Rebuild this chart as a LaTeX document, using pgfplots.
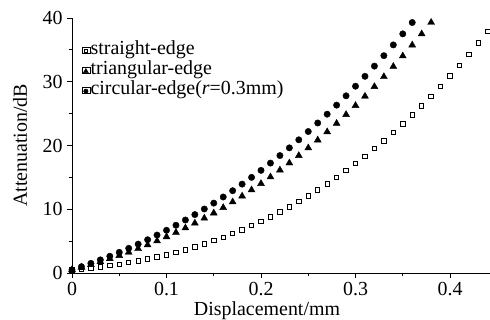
\documentclass[border=0pt]{standalone}
\usepackage{pgfplots}
\pgfplotsset{compat=1.18}
\usepackage{fontspec}
\setmainfont{Liberation Serif}

\begin{document}
\begin{tikzpicture}
\begin{axis}[
  scale only axis, width=418bp, height=255bp,
  xmin=0, xmax=0.4423, ymin=0, ymax=40,
  axis x line=bottom, axis y line=left,
  axis line style={-, line width=0.8bp},
  xtick={0,0.1,0.2,0.3,0.4}, xticklabels={0,0.1,0.2,0.3,0.4},
  ytick={0,10,20,30,40}, yticklabels={0,10,20,30,40},
  minor x tick num=1, minor y tick num=1,
  tick align=outside, major tick length=5bp, minor tick length=3bp,
  tick style={line width=0.8bp, black},
  tick label style={font=\fontsize{20}{20}\selectfont},
  xticklabel style={yshift=-1bp},
  yticklabel style={xshift=-1bp},
  xlabel={Displacement/mm}, ylabel={Attenuation/dB},
  label style={font=\fontsize{20}{20}\selectfont},
  xlabel style={at={(axis description cs:0.4665,0)}, anchor=base, yshift=-43bp},
  ylabel style={at={(axis description cs:-0.1077,0.5)}, anchor=base},
  legend style={draw=none, fill=none, at={(rel axis cs:0,1)}, anchor=north west,
    xshift=10bp, yshift=-22bp, font=\fontsize{20}{20}\selectfont,
    row sep=0pt, inner sep=0pt, column sep=0pt,
    nodes={inner sep=0pt, text height=14bp, text depth=6bp}},
  legend cell align=left,
  legend image code/.code={\path (0bp,-3bp) rectangle (8bp,3bp); \draw[#1, every mark/.append style={scale=0.7}] plot coordinates {(3.5bp,-1bp)};},
]
\addplot[only marks, mark=square, mark size=2.2bp, mark options={fill=white, line width=0.9bp}, black] coordinates {
(0.00,0.50)(0.01,0.63)(0.02,0.78)(0.03,0.95)(0.04,1.15)(0.05,1.37)(0.06,1.61)(0.07,1.88)(0.08,2.18)(0.09,2.50)
(0.10,2.85)(0.11,3.23)(0.12,3.64)(0.13,4.08)(0.14,4.55)(0.15,5.06)(0.16,5.59)(0.17,6.17)(0.18,6.78)(0.19,7.42)
(0.20,8.10)(0.21,8.82)(0.22,9.58)(0.23,10.38)(0.24,11.21)(0.25,12.09)(0.26,13.02)(0.27,13.98)(0.28,14.99)(0.29,16.05)
(0.30,17.15)(0.31,18.30)(0.32,19.50)(0.33,20.74)(0.34,22.04)(0.35,23.38)(0.36,24.78)(0.37,26.23)(0.38,27.73)(0.39,29.29)
(0.40,30.90)(0.41,32.57)(0.42,34.29)(0.43,36.08)(0.44,37.92)
};
\addlegendentry{straight-edge}
\addplot[only marks, mark=triangle*, mark size=4bp, black] coordinates {
(0.00,0.50)(0.01,0.89)(0.02,1.31)(0.03,1.76)(0.04,2.23)(0.05,2.73)(0.06,3.25)(0.07,3.81)(0.08,4.40)(0.09,5.02)
(0.10,5.67)(0.11,6.35)(0.12,7.06)(0.13,7.81)(0.14,8.59)(0.15,9.40)(0.16,10.25)(0.17,11.14)(0.18,12.06)(0.19,13.02)
(0.20,14.02)(0.21,15.06)(0.22,16.14)(0.23,17.25)(0.24,18.41)(0.25,19.61)(0.26,20.85)(0.27,22.14)(0.28,23.46)(0.29,24.84)
(0.30,26.26)(0.31,27.72)(0.32,29.23)(0.33,30.79)(0.34,32.39)(0.35,34.04)(0.36,35.75)(0.37,37.50)(0.38,39.30)(0.39,41.15)
};
\addlegendentry{triangular-edge}
\addplot[only marks, mark=*, mark size=3.2bp, black] coordinates {
(0.00,0.50)(0.01,0.99)(0.02,1.51)(0.03,2.06)(0.04,2.63)(0.05,3.24)(0.06,3.87)(0.07,4.53)(0.08,5.22)(0.09,5.95)
(0.10,6.70)(0.11,7.49)(0.12,8.31)(0.13,9.16)(0.14,10.04)(0.15,10.96)(0.16,11.92)(0.17,12.91)(0.18,13.94)(0.19,15.00)
(0.20,16.10)(0.21,17.24)(0.22,18.42)(0.23,19.63)(0.24,20.89)(0.25,22.19)(0.26,23.53)(0.27,24.91)(0.28,26.33)(0.29,27.79)
(0.30,29.30)(0.31,30.85)(0.32,32.45)(0.33,34.09)(0.34,35.78)(0.35,37.51)(0.36,39.29)(0.37,41.12)
};
\addlegendentry{circular-edge(\textit{r}=0.3mm)}
\coordinate (sw) at (rel axis cs:0,0);
\coordinate (ne) at (rel axis cs:1,1);
\end{axis}
\path (sw) ++(-72bp,-47bp) coordinate (a);
\path (ne) ++(0bp,18bp) coordinate (b);
\pgfresetboundingbox
\path (a) rectangle (b);
\end{tikzpicture}
\end{document}
